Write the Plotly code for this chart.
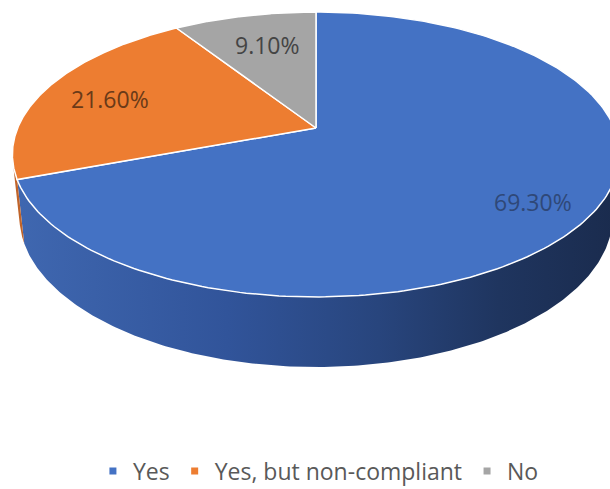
import numpy as np
import plotly.graph_objects as go

# ---- data ----
categories = ["Yes", "Yes, but non-compliant", "No"]
values = [69.3, 21.6, 9.1]
label_texts = ["69.30%", "21.60%", "9.10%"]

# ---- style ----
top_colors = ["#4472c4", "#ed7d31", "#a5a5a5"]
wall_colors = ["#2c4b88", "#c0642a", "#858585"]
label_colors = ["#2f4878", "#6a3a18", "#444444"]
label_radius = [0.81, 0.76, 0.64]
label_yshift = [-5, -3, 7]
W, H_PX = 610, 489

# perspective camera model (pixel space)
S, C = 0.461, 0.887        # sin / cos of view tilt
D = 4.77                    # camera distance (disc radius = 1)
F = 1423.0                  # focal length in px
CX, CY = 316.0, 128.0       # projected disc centre
THICK = 0.236               # disc thickness


def proj(X, Y, z=0.0):
    u = Y * S + z * C
    w = D + Y * C - z * S
    return CX + F * X / w, CY - F * u / w


def edge(t0, t1, z=0.0, n=240):
    t = np.radians(np.linspace(t0, t1, n))
    return proj(np.sin(t), np.cos(t), z)


total = float(sum(values))
bounds = np.concatenate([[0.0], np.cumsum(values) / total * 360.0])

fig = go.Figure()

# visible wall range (faces camera)
ymin_vis = -1.0 / (D * C)
t_vis0 = np.degrees(np.arccos(ymin_vis))
t_vis1 = 360.0 - t_vis0

# side walls
for i, cat in enumerate(categories):
    a, b = max(bounds[i], t_vis0), min(bounds[i + 1], t_vis1)
    if b <= a:
        continue
    xt, yt = edge(a, b, 0.0)
    xb, yb = edge(a, b, -THICK)
    xs = np.concatenate([xt, xb[::-1], xt[:1]])
    ys = np.concatenate([yt, yb[::-1], yt[:1]])
    kw = {}
    if i == 0:
        kw["fillgradient"] = dict(
            type="horizontal",
            colorscale=[[0, "#3f67b0"], [0.35, "#31549a"], [0.6, "#28457d"],
                        [0.8, "#1f355f"], [1, "#1a2b4d"]],
        )
    fig.add_trace(go.Scatter(
        x=xs, y=ys, fill="toself", mode="lines",
        fillcolor=wall_colors[i], line=dict(width=0, color=wall_colors[i]),
        hoverinfo="skip", showlegend=False, **kw))

# top faces
for i, cat in enumerate(categories):
    xe, ye = edge(bounds[i], bounds[i + 1], 0.0)
    xs = np.concatenate([[CX], xe, [CX]])
    ys = np.concatenate([[CY], ye, [CY]])
    fig.add_trace(go.Scatter(
        x=xs, y=ys, fill="toself", mode="lines",
        fillcolor=top_colors[i], line=dict(width=1.5, color="white"),
        hoverinfo="skip", showlegend=False))

# labels
for i, txt in enumerate(label_texts):
    mid = np.radians((bounds[i] + bounds[i + 1]) / 2)
    r = label_radius[i]
    lx, ly = proj(r * np.sin(mid), r * np.cos(mid))
    fig.add_annotation(x=lx, y=ly, text=txt, showarrow=False, yshift=label_yshift[i],
                       font=dict(family="Open Sans", size=23, color=label_colors[i]))

# legend entries
for i, cat in enumerate(categories):
    fig.add_trace(go.Scatter(
        x=[None], y=[None], mode="markers", name=cat,
        marker=dict(symbol="square", size=7, color=top_colors[i])))

fig.update_layout(
    width=W, height=H_PX,
    margin=dict(l=0, r=0, t=0, b=0, autoexpand=False),
    paper_bgcolor="white", plot_bgcolor="white",
    xaxis=dict(range=[0, W], visible=False, fixedrange=True),
    yaxis=dict(range=[H_PX, 0], visible=False, fixedrange=True),
    showlegend=True,
    legend=dict(orientation="h", x=0.522, xanchor="center", y=1 - 471 / H_PX,
                yanchor="middle", itemwidth=30,
                font=dict(family="Open Sans", size=23, color="#595959"),
                bgcolor="rgba(0,0,0,0)"),
)

fig.write_html("out.html", config={"displayModeBar": False},
               post_script="document.body.style.margin='0';document.body.style.overflow='hidden';")
